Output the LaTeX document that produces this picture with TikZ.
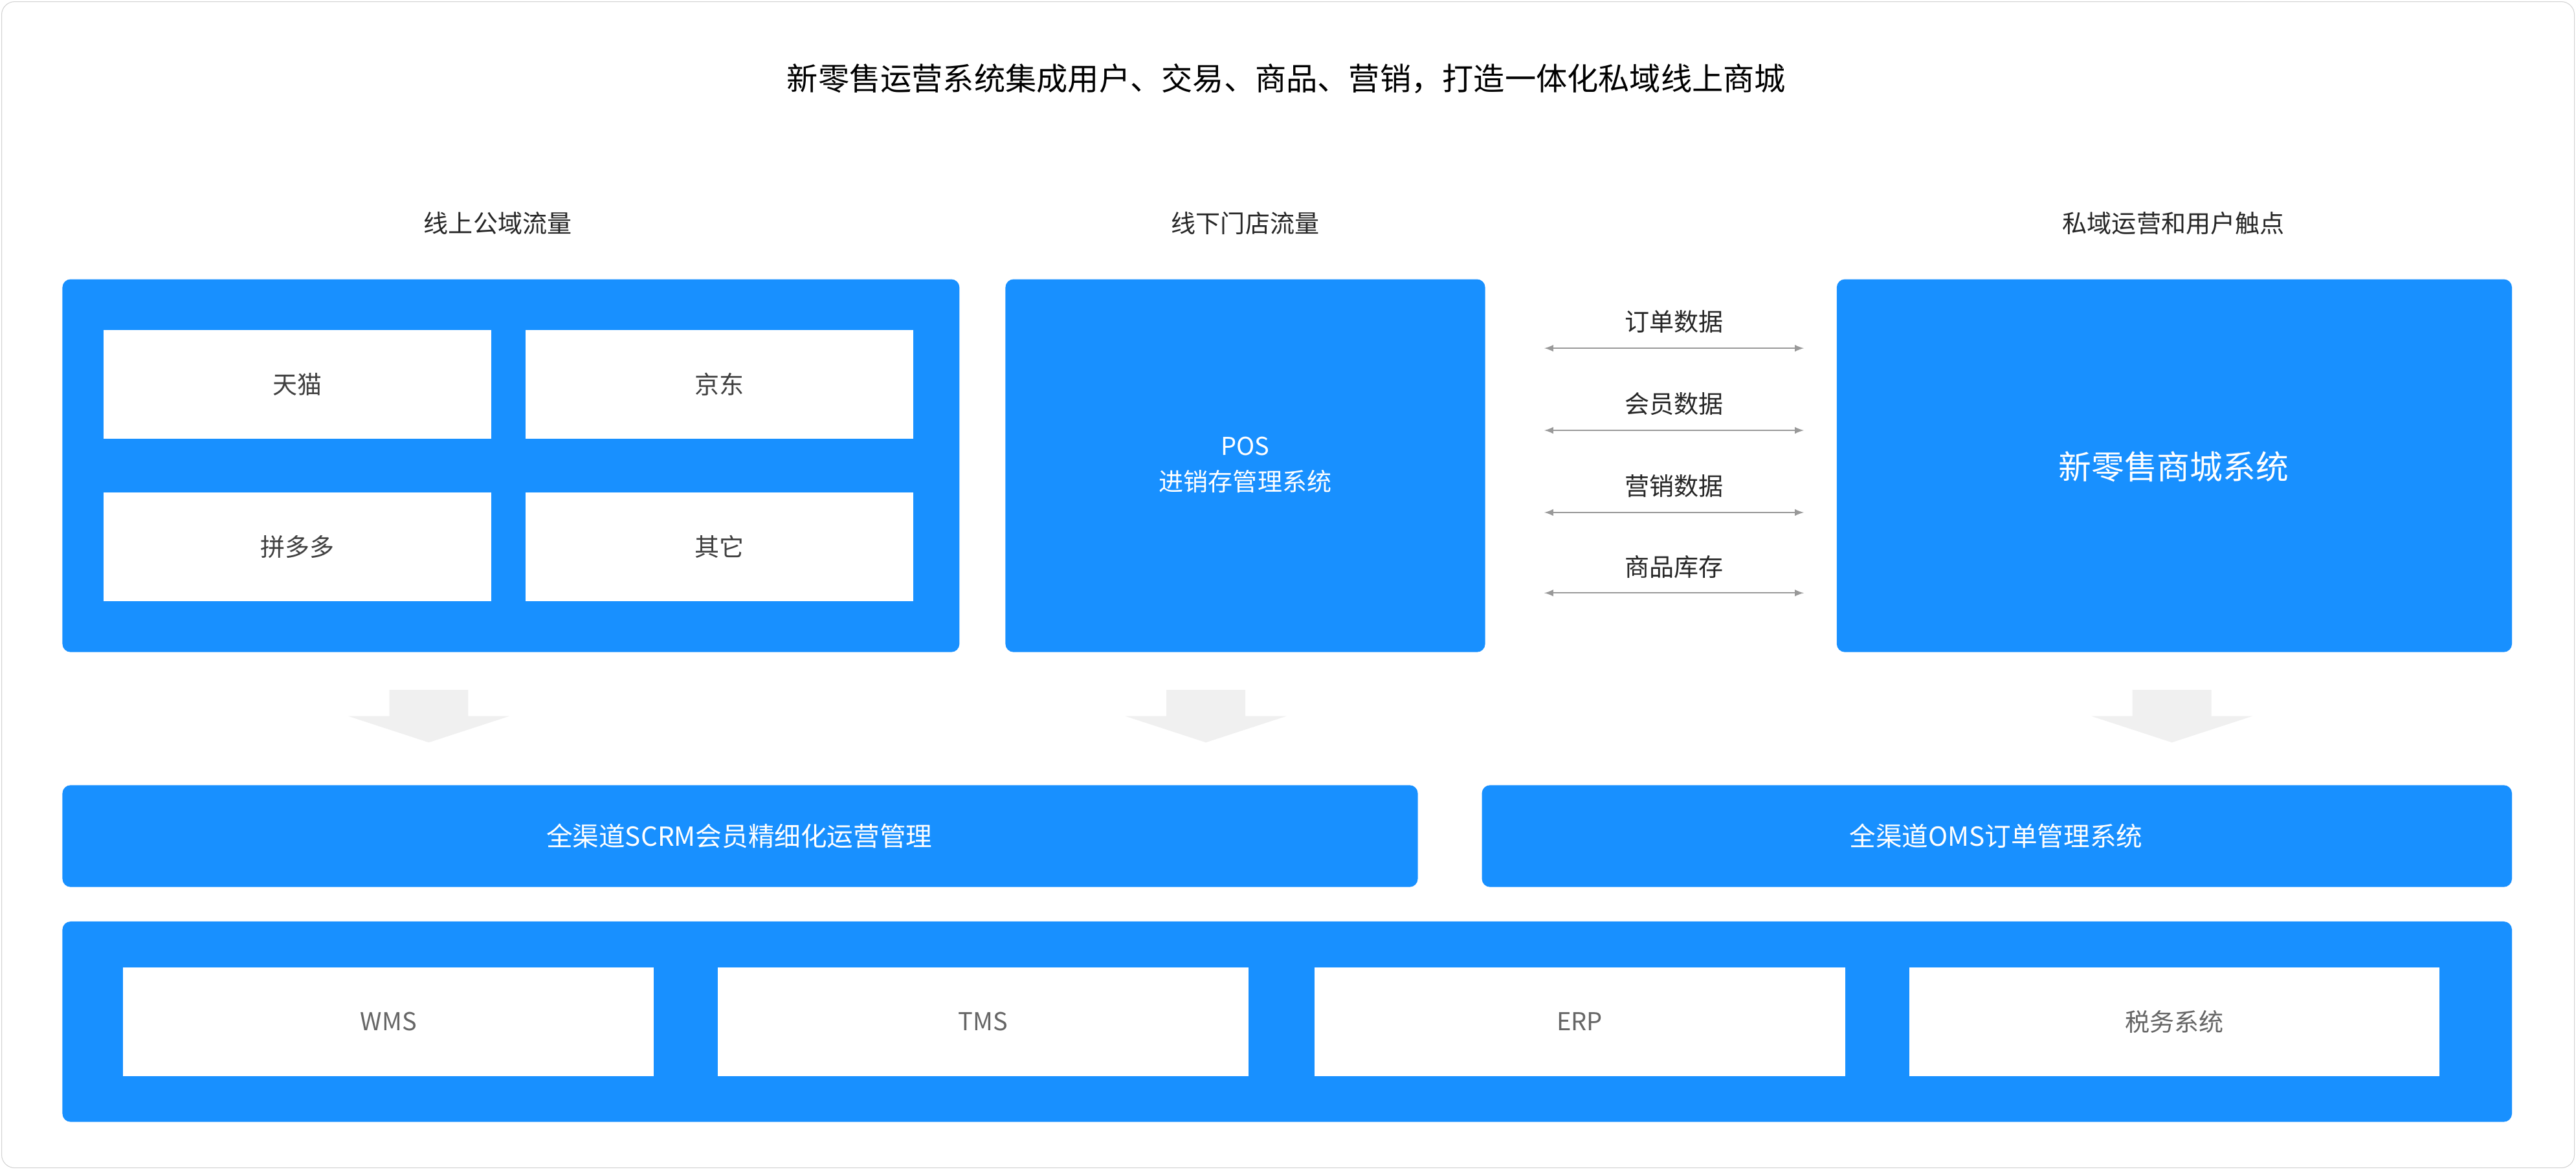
\documentclass[tikz,border=0pt]{standalone}
\usepackage{fontspec}
\setmainfont{Noto Sans CJK SC}
\definecolor{blu}{HTML}{1890FF}
\definecolor{arr}{HTML}{F0F0F0}
\definecolor{gtx}{HTML}{666666}
\begin{document}
\begin{tikzpicture}[x=1pt,y=-1pt,
  bluebox/.style={fill=blu,draw=none,rounded corners=5pt},
  wbox/.style={fill=white,draw=none},
  lbl/.style={font=\fontsize{15}{18}\selectfont,text=black!85},
  darr/.style={draw=gray!80,line width=0.9pt,<->,>=latex}]
\useasboundingbox (0,0) rectangle (1568,712);
\draw[draw=black!18,fill=white,rounded corners=8pt] (1,1) rectangle (1567,711);
\node (title) at (783,48) {\fontsize{19}{22}\selectfont 新零售运营系统集成用户、交易、商品、营销，打造一体化私域线上商城};
\node[lbl] (h1) at (303,136) {线上公域流量};
\node[lbl] (h2) at (758,136) {线下门店流量};
\node[lbl] (h3) at (1323,136) {私域运营和用户触点};
\draw[bluebox] (38,170) rectangle (584,397);
\foreach \n/\a/\b/\t in {tm/63/201/天猫,jd/320/201/京东,pdd/63/300/拼多多,qt/320/300/其它}{
  \draw[wbox] (\a,\b) rectangle ++(236,66);
  \node[lbl,text=black!75] (\n) at (\a+118,\b+33) {\t};
}
\draw[bluebox] (612,170) rectangle (904,397);
\node[align=center,text=white,font=\fontsize{15}{22}\selectfont] (pos) at (758,283) {POS\\进销存管理系统};
\draw[bluebox] (1118,170) rectangle (1529,397);
\node[text=white,font=\fontsize{20}{24}\selectfont] (mall) at (1323,284) {新零售商城系统};
\foreach \y/\t [count=\i] in {212/订单数据,262/会员数据,312/营销数据,361/商品库存}{
  \coordinate (l\i) at (940,\y); \coordinate (r\i) at (1098,\y);
  \draw[darr] (l\i) -- (r\i);
  \node[lbl] (d\i) at (1019,\y-16) {\t};
}
\foreach \x in {261,734,1322}{
  \fill[arr] (\x-24,420) -- (\x+24,420) -- (\x+24,436) -- (\x+49,436) -- (\x,452) -- (\x-49,436) -- (\x-24,436) -- cycle;
}
\draw[bluebox] (38,478) rectangle (863,540);
\node[text=white,font=\fontsize{16}{20}\selectfont] (scrm) at (450,509) {全渠道SCRM会员精细化运营管理};
\draw[bluebox] (902,478) rectangle (1529,540);
\node[text=white,font=\fontsize{16}{20}\selectfont] (oms) at (1215,509) {全渠道OMS订单管理系统};
\draw[bluebox] (38,561) rectangle (1529,683);
\foreach \n/\a/\t in {wms/75/WMS,tms/437/TMS,erp/800/ERP,tax/1162/税务系统}{
  \draw[wbox] (\a,589) rectangle ++(323,66);
  \node[lbl,text=gtx] (\n) at (\a+161.5,622) {\t};
}
\end{tikzpicture}
\end{document}
